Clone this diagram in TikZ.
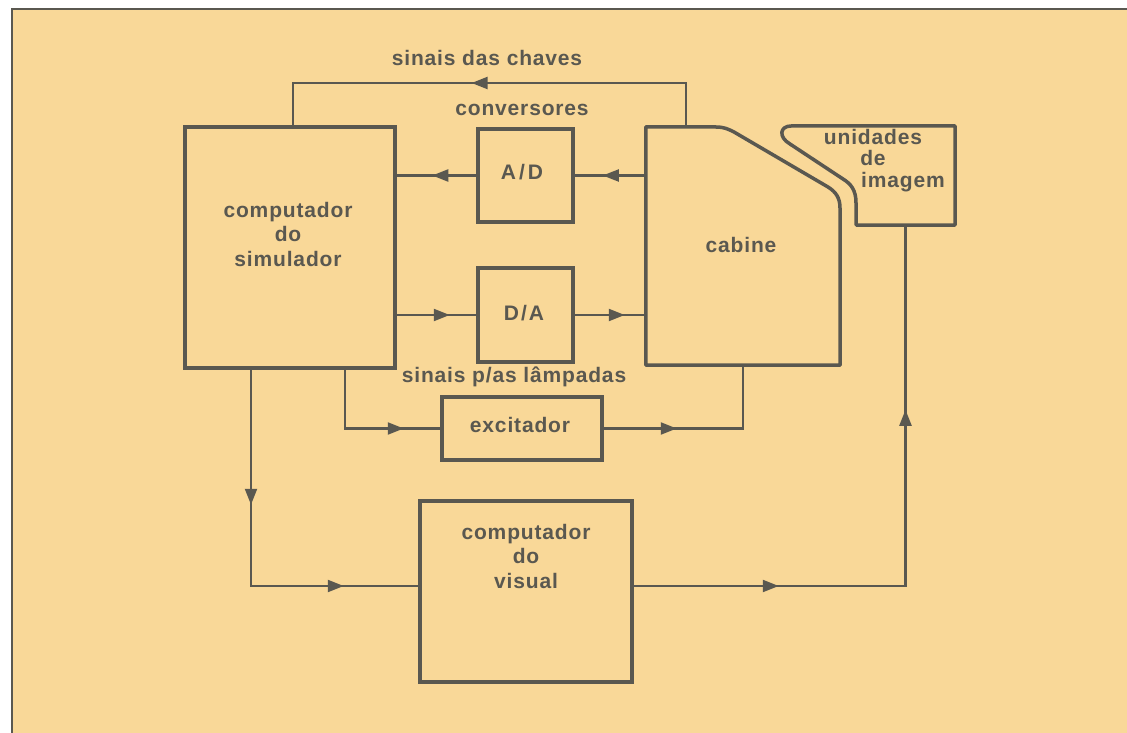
\documentclass[tikz,border=0pt]{standalone}
\usepackage{fontspec}
\setmainfont{Liberation Sans}[LetterSpace=4]
\usetikzlibrary{arrows.meta,decorations.markings}
\definecolor{paper}{HTML}{F9D898}
\definecolor{ink}{HTML}{5A5850}
\tikzset{
  box/.style={draw=ink,line width=3.5pt,inner sep=0pt},
  lbl/.style={text=ink,font=\bfseries\fontsize{21}{24.5}\selectfont,align=center,inner sep=0pt},
  conn/.style={draw=ink,line width=2.2pt},
  am/.style={postaction=decorate,decoration={markings,
      mark=at position #1 with {\arrow[ink]{Triangle[length=16pt,width=12pt]}}}},
  amm/.style 2 args={postaction=decorate,decoration={markings,
      mark=at position #1 with {\arrow[ink]{Triangle[length=16pt,width=12pt]}},
      mark=at position #2 with {\arrow[ink]{Triangle[length=16pt,width=12pt]}}}}
}
\begin{document}
\begin{tikzpicture}[x=1pt,y=-1pt]
\useasboundingbox (0,0) rectangle (1127,733);
\fill[white] (0,0) rectangle (1127,733);
\fill[paper] (12,9) rectangle (1127,733);
\draw[ink,line width=2pt] (12,733) -- (12,9) -- (1127,9);

% boxes
\node[box,minimum width=210pt,minimum height=241pt] (sim) at (290,247.5) {};
\node[lbl] (simt) at (288,234) {computador\\do\\simulador};
\node[box,minimum width=95pt,minimum height=93pt] (ad) at (525.5,175.5) {};
\node[lbl] (adt) at (522,172) {A\kern3pt/\kern3pt D};
\node[box,minimum width=95pt,minimum height=94pt] (da) at (525.5,315) {};
\node[lbl] (dat) at (524,313) {D\kern2pt/\kern2pt A};
\node[box,minimum width=160pt,minimum height=63pt] (exc) at (522,428.5) {};
\node[lbl] (exct) at (520,425) {excitador};
\node[box,minimum width=212pt,minimum height=181pt] (vis) at (526,591.5) {};
\node[lbl] (vist) at (526,556) {computador\\do\\visual};

% cabine
\node[minimum width=194pt,minimum height=238pt,inner sep=0pt] (cab) at (743,246) {};
\node[lbl] (cabt) at (741,245) {cabine};
\draw[ink,line width=3.5pt,line join=round]
  (cab.south west) -- (cab.north west) -- (716,127)
  .. controls (724,127) and (728,129) .. (734,132) -- (828,187)
  .. controls (836,192) and (840,198) .. (840,208) -- (cab.south east) -- cycle;

% unidades de imagem
\node[minimum width=99pt,minimum height=99pt,inner sep=0pt] (uni) at (905.5,175.5) {};
\draw[ink,line width=3.5pt,line join=round]
  (856,225) -- (856,203) .. controls (856,190) and (851,184) .. (843,179)
  -- (790,144) .. controls (778,137) and (780,126) .. (791,126)
  -- (955,126) -- (955,225) -- cycle;
\node[lbl] (unit1) at (873,137) {unidades};
\node[lbl] (unit2) at (873,158) {de};
\node[lbl] (unit3) at (903,182) {imagem};

% labels
\node[lbl] (chv) at (487,58) {sinais das chaves};
\node[lbl] (conv) at (522,110) {conversores};
\node[lbl] (lamp) at (514,377) {sinais p/as lâmpadas};

% connectors
\coordinate (chvtop) at (293,83);
\draw[conn,am=258pt] ([xshift=40pt]cab.north west) |- (chvtop) -- ([xshift=3pt]sim.north);
\draw[conn,am=44pt] (ad.west) -- (ad.west -| sim.east);
\draw[conn,am=43pt] (cab.west |- ad.east) -- (ad.east);
\draw[conn,am=53pt] (sim.east |- da.west) -- (da.west);
\draw[conn,am=50pt] (da.east) -- (da.east -| cab.west);
\draw[conn,am=117.5pt] ([xshift=55pt]sim.south) |- (exc.west);
\draw[conn,am=73pt] (exc.east) -| (cab.south);
\draw[conn,amm={135pt}{309pt}] ([xshift=-39pt]sim.south) |- ([yshift=5.5pt]vis.west);
\draw[conn,amm={145pt}{448pt}] ([yshift=5.5pt]vis.east) -| (uni.south);
\end{tikzpicture}
\end{document}
